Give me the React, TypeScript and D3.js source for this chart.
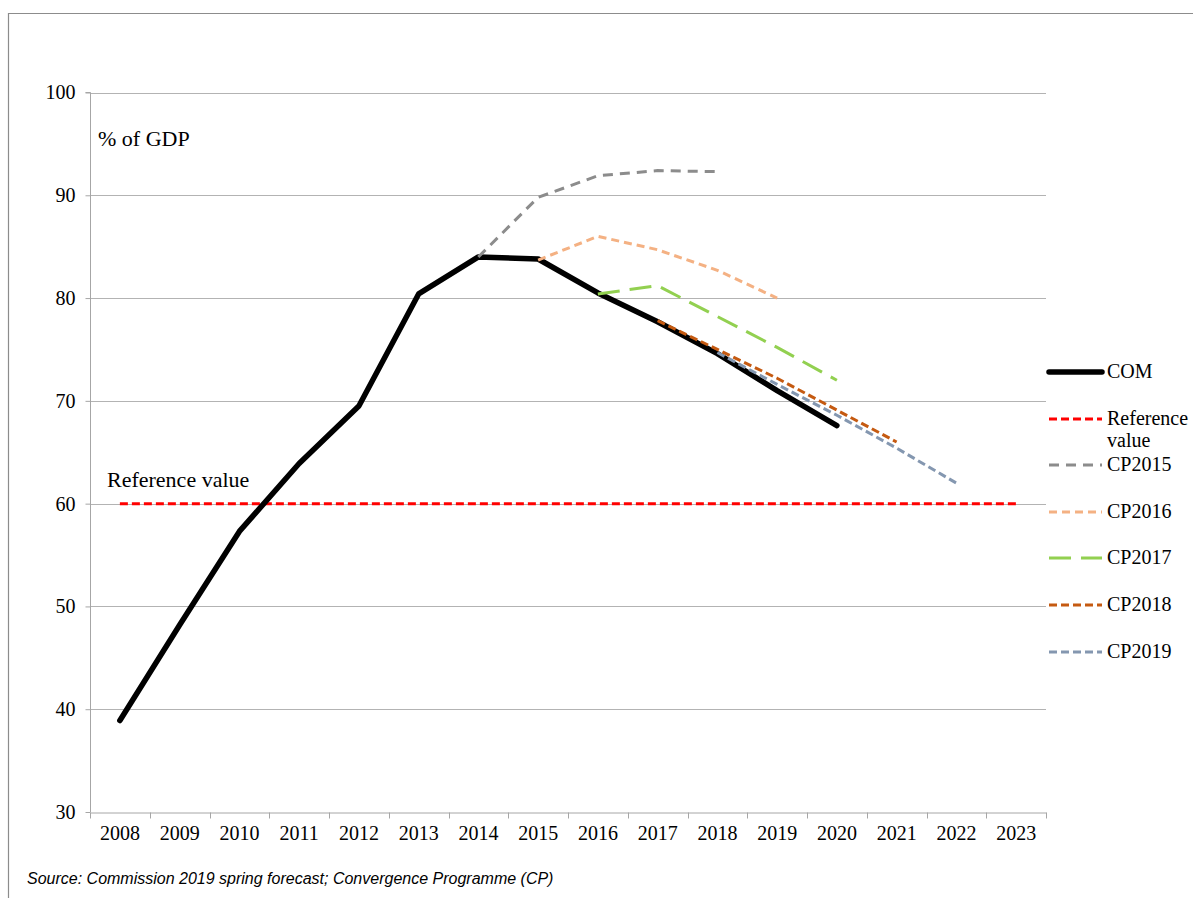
import React, { useRef, useEffect } from 'react';
import * as d3 from 'd3';

const years = ['2008', '2009', '2010', '2011', '2012', '2013', '2014', '2015', '2016', '2017', '2018', '2019', '2020', '2021', '2022', '2023'];
const yTicks = [30, 40, 50, 60, 70, 80, 90, 100];

const comYears = ['2008', '2009', '2010', '2011', '2012', '2013', '2014', '2015', '2016', '2017', '2018', '2019', '2020'];
const comValues = [38.9, 48.2, 57.3, 63.9, 69.5, 80.4, 84.0, 83.8, 80.5, 77.7, 74.6, 71.0, 67.6];

const cp2015Years = ['2014', '2015', '2016', '2017', '2018'];
const cp2015Values = [84.0, 89.8, 91.9, 92.4, 92.3];

const cp2016Years = ['2015', '2016', '2017', '2018', '2019'];
const cp2016Values = [83.7, 86.0, 84.7, 82.7, 80.0];

const cp2017Years = ['2016', '2017', '2018', '2019', '2020'];
const cp2017Values = [80.4, 81.2, 78.2, 75.2, 72.0];

const cp2018Years = ['2017', '2018', '2019', '2020', '2021'];
const cp2018Values = [77.8, 75.0, 72.2, 69.1, 66.0];

const cp2019Years = ['2018', '2019', '2020', '2021', '2022'];
const cp2019Values = [74.7, 71.6, 68.6, 65.4, 62.0];

const referenceValue = 60;

const App = () => {
    const ref = useRef(null);

    useEffect(() => {
        const svg = d3.select(ref.current);
        svg.selectAll('*').remove();

        const left = 90, right = 1046, top = 92.5, bottom = 812;
        const serif = '"Liberation Serif", "Times New Roman", serif';

        const x = d3.scaleBand().domain(years).range([left, right]);
        const y = d3.scaleLinear().domain([30, 100]).range([bottom, top]);
        const cx = (yr) => x(yr) + x.bandwidth() / 2;

        // outer frame
        svg.append('path')
            .attr('d', `M8.5,${898} V13.5 H1193`)
            .attr('fill', 'none')
            .attr('stroke', '#8c8c8c')
            .attr('stroke-width', 1.2);

        // gridlines
        svg.append('g')
            .selectAll('line')
            .data(yTicks.filter(t => t > 30))
            .enter()
            .append('line')
            .attr('x1', left).attr('x2', right)
            .attr('y1', d => Math.round(y(d)) + 0.5).attr('y2', d => Math.round(y(d)) + 0.5)
            .attr('stroke', '#b3b3b3')
            .attr('stroke-width', 1.2);

        // y axis
        const yAxis = svg.append('g')
            .attr('transform', `translate(${left + 0.5},0)`)
            .call(d3.axisLeft(y).tickValues(yTicks).tickSize(5).tickPadding(10));
        yAxis.select('.domain').attr('stroke', '#a6a6a6').attr('d', `M-5,${y(100)}H0V${y(30)}`);
        yAxis.selectAll('.tick line').attr('stroke', '#a6a6a6');
        yAxis.selectAll('.tick text')
            .attr('font-family', serif)
            .attr('font-size', 20)
            .attr('fill', '#000');

        // x axis
        const xAxis = svg.append('g')
            .attr('transform', `translate(0,${Math.round(bottom) + 0.5})`)
            .call(d3.axisBottom(x).tickSize(0).tickPadding(13));
        xAxis.select('.domain').attr('stroke', '#a6a6a6');
        xAxis.selectAll('.tick text')
            .attr('font-family', serif)
            .attr('font-size', 20)
            .attr('fill', '#000');
        xAxis.selectAll('line.sep')
            .data(d3.range(years.length + 1))
            .enter()
            .append('line')
            .attr('class', 'sep')
            .attr('x1', i => Math.round(left + i * x.step()) + 0.5)
            .attr('x2', i => Math.round(left + i * x.step()) + 0.5)
            .attr('y1', 0).attr('y2', 6)
            .attr('stroke', '#a6a6a6');

        // labels inside plot
        svg.append('text')
            .attr('x', 98).attr('y', 146)
            .attr('font-family', serif).attr('font-size', 22)
            .text('% of GDP');
        svg.append('text')
            .attr('x', 107).attr('y', 487)
            .attr('font-family', serif).attr('font-size', 22)
            .text('Reference value');

        const line = d3.line()
            .x(d => cx(d.yr))
            .y(d => y(d.v));

        const series = [
            { name: 'CP2015', yrs: cp2015Years, vals: cp2015Values, color: '#8c8c8c', width: 3, dash: '10,7' },
            { name: 'CP2016', yrs: cp2016Years, vals: cp2016Values, color: '#f4b183', width: 3, dash: '8,5' },
            { name: 'CP2017', yrs: cp2017Years, vals: cp2017Values, color: '#92d050', width: 3, dash: '22,10' },
            { name: 'CP2019', yrs: cp2019Years, vals: cp2019Values, color: '#8497b0', width: 3, dash: '8,4' },
            { name: 'CP2018', yrs: cp2018Years, vals: cp2018Values, color: '#c55a11', width: 3, dash: '8,4' },
        ];

        // reference value line
        svg.append('path')
            .datum(years.map(yr => ({ yr, v: referenceValue })))
            .attr('fill', 'none')
            .attr('stroke', '#ff0000')
            .attr('stroke-width', 3)
            .attr('stroke-dasharray', '8,4')
            .attr('d', line);

        // COM
        svg.append('path')
            .datum(comYears.map((yr, i) => ({ yr, v: comValues[i] })))
            .attr('fill', 'none')
            .attr('stroke', '#000')
            .attr('stroke-width', 5.5)
            .attr('stroke-linejoin', 'round')
            .attr('stroke-linecap', 'round')
            .attr('d', line);

        series.forEach(s => {
            svg.append('path')
                .datum(s.yrs.map((yr, i) => ({ yr, v: s.vals[i] })))
                .attr('fill', 'none')
                .attr('stroke', s.color)
                .attr('stroke-width', s.width)
                .attr('stroke-dasharray', s.dash)
                .attr('d', line);
        });

        // legend
        const legend = [
            { label: ['COM'], y: 372, color: '#000', width: 5.5, dash: null },
            { label: ['Reference', 'value'], y: 419, color: '#ff0000', width: 3, dash: '8,4' },
            { label: ['CP2015'], y: 465, color: '#8c8c8c', width: 3, dash: '10,7' },
            { label: ['CP2016'], y: 512, color: '#f4b183', width: 3, dash: '8,5' },
            { label: ['CP2017'], y: 558, color: '#92d050', width: 3, dash: '22,10' },
            { label: ['CP2018'], y: 605, color: '#c55a11', width: 3, dash: '8,4' },
            { label: ['CP2019'], y: 652, color: '#8497b0', width: 3, dash: '8,4' },
        ];
        const lg = svg.append('g');
        legend.forEach(item => {
            lg.append('line')
                .attr('x1', 1049).attr('x2', 1102)
                .attr('y1', item.y).attr('y2', item.y)
                .attr('stroke', item.color)
                .attr('stroke-width', item.width)
                .attr('stroke-linecap', item.dash ? 'butt' : 'round')
                .attr('stroke-dasharray', item.dash);
            const t = lg.append('text')
                .attr('x', 1107).attr('y', item.y + 6)
                .attr('font-family', serif).attr('font-size', 20);
            item.label.forEach((l, i) => {
                t.append('tspan').attr('x', 1107).attr('dy', i === 0 ? 0 : 22).text(l);
            });
        });

        // source
        svg.append('text')
            .attr('x', 27).attr('y', 884)
            .attr('font-family', '"Liberation Sans", Arial, sans-serif')
            .attr('font-style', 'italic')
            .attr('font-size', 16)
            .attr('fill', '#000')
            .text('Source: Commission 2019 spring forecast; Convergence Programme (CP)');
    }, []);

    return (
        <svg
            ref={ref}
            width={1193}
            height={898}
            style={{ position: 'absolute', left: 0, top: 0, background: '#fff' }}
        />
    );
};

export default App;
